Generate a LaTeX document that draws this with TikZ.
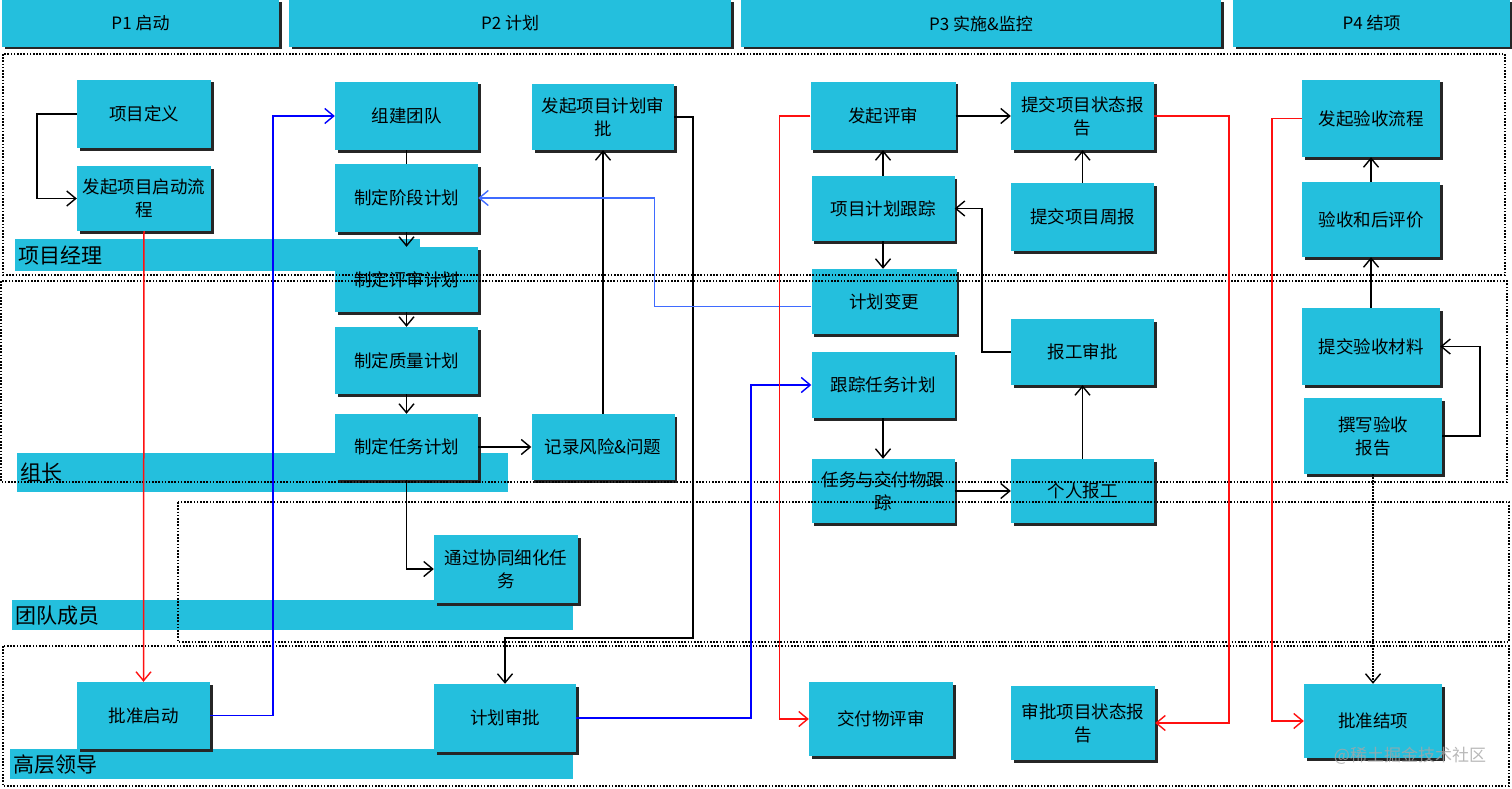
\documentclass[tikz,border=0pt]{standalone}
\usepackage{fontspec}
\setmainfont{Noto Sans CJK SC}
\usetikzlibrary{arrows.meta,shadows}
\definecolor{boxcyan}{HTML}{24BFDD}
\definecolor{darkblue}{HTML}{0000FF}
\definecolor{lightblue}{HTML}{3F6BFF}
\definecolor{flowred}{HTML}{FF1010}

\begin{document}
\begin{tikzpicture}[
        x=1pt, y=-1pt,
        box/.style={fill=boxcyan, minimum width=143pt, minimum height=66pt, inner sep=1pt,
                align=center, font=\fontsize{17.5}{23}\selectfont,
                drop shadow={shadow xshift=2.5pt, shadow yshift=-2.5pt, fill=black!85, opacity=1}},
        head/.style={box, minimum height=47pt, font=\fontsize{17}{20}\selectfont},
        lanelbl/.style={fill=boxcyan, anchor=north west, inner xsep=3pt, inner ysep=0pt,
                align=left, font=\fontsize{21}{24}\selectfont},
        lane/.style={draw=black, line width=1.6pt, dash pattern=on 1.6pt off 1.6pt},
        arr/.style={line width=1.5pt, -{Straight Barb[length=9pt, width=15pt, line width=1.4pt]}},
        link/.style={line width=1.5pt}
    ]

    \useasboundingbox (0,0) rectangle (1512,789);

    \node[lanelbl, text width=399pt, minimum height=32pt] (lbl1) at (15,239) {项目经理};
    \node[lanelbl, text width=485pt, minimum height=39pt] (lbl2) at (17,453) {组长};
    \node[lanelbl, text width=555pt, minimum height=30pt] (lbl3) at (12,600) {团队成员};
    \node[lanelbl, text width=557pt, minimum height=30pt] (lbl4) at (10,749) {高层领导};

    \node[head, minimum width=277pt] (p1) at (140.5,23.5) {P1 启动};
    \node[head, minimum width=442pt] (p2) at (510,23.5) {P2 计划};
    \node[head, minimum width=480pt] (p3) at (981,23.5) {P3 实施\&监控};
    \node[head, minimum width=277pt] (p4) at (1371.5,23.5) {P4 结项};

    \node[box, minimum width=134pt, minimum height=68pt] (xmdy) at (144,114) {项目定义};
    \node[box, minimum width=134pt, minimum height=65pt] (fqqd) at (144,198.5) {发起项目启动流\\程};
    \node[box, minimum width=133pt, minimum height=67pt] (pzqd) at (143.5,715.5) {批准启动};

    \node[box, minimum height=68pt] (zjtd) at (406.5,116) {组建团队};
    \node[box, minimum height=68pt] (jdjh) at (406.5,198) {制定阶段计划};
    \node[box, minimum height=65pt] (psjh) at (406.5,279.5) {制定评审计划};
    \node[box, minimum height=67pt] (zljh) at (406.5,360.5) {制定质量计划};
    \node[box] (rwjh) at (406.5,447) {制定任务计划};
    \node[box, minimum width=142pt] (fqsp) at (603,117) {发起项目计划审\\批};
    \node[box] (fxwt) at (603,447) {记录风险\&问题};
    \node[box, minimum width=144pt, minimum height=68pt] (xhrw) at (506,569) {通过协同细化任\\务};
    \node[box, minimum width=142pt, minimum height=68pt] (jhsp) at (505,718) {计划审批};

    \node[box, minimum width=145pt, minimum height=68pt] (fqps) at (883,116) {发起评审};
    \node[box, minimum height=65pt] (jhgz) at (883,208.5) {项目计划跟踪};
    \node[box, minimum width=145pt, minimum height=65pt] (jhbg) at (884,301.5) {计划变更};
    \node[box] (gzrw) at (883,385) {跟踪任务计划};
    \node[box, minimum height=64pt] (jfgz) at (883,491) {任务与交付物跟\\踪};
    \node[box, minimum width=144pt, minimum height=74pt] (jfps) at (881,719) {交付物评审};

    \node[box, minimum height=68pt] (tjzt) at (1082.5,116) {提交项目状态报\\告};
    \node[box, minimum height=68pt] (tjzb) at (1082.5,217) {提交项目周报};
    \node[box] (bgsp) at (1082.5,352) {报工审批};
    \node[box, minimum height=64pt] (grbg) at (1082.5,491) {个人报工};
    \node[box, minimum width=144pt, minimum height=74pt] (spzt) at (1083,723) {审批项目状态报\\告};

    \node[box, minimum width=138pt, minimum height=77pt] (fqys) at (1371,118.5) {发起验收流程};
    \node[box, minimum width=138pt, minimum height=75pt] (yshp) at (1371,219.5) {验收和后评价};
    \node[box, minimum width=138pt, minimum height=77pt] (tjcl) at (1371,346.5) {提交验收材料};
    \node[box, minimum width=138pt, minimum height=76pt] (zxbg) at (1373,436) {撰写验收\\报告};
    \node[box, minimum width=138pt, minimum height=74pt] (pzjx) at (1373,721) {批准结项};

    \draw[lane] (3,54) rectangle (1505,275);
    \draw[lane] (1,281) rectangle (1507,482);
    \draw[lane] (178,502) rectangle (1509,642);
    \draw[lane] (3,646) rectangle (1509,786);

    \draw[arr] (xmdy.west) -- ++(-40,0) |- (fqqd.west);
    \draw[arr, flowred] (fqqd.south) -- (pzqd.north);
    \draw[arr, darkblue] (pzqd.east) -- ++(63,0) |- (zjtd.west);
    \draw[link] (zjtd.south) -- (jdjh.north);
    \draw[arr] (jdjh.south) -- (psjh.north);
    \draw[arr] (psjh.south) -- (zljh.north);
    \draw[arr] (zljh.south) -- (rwjh.north);
    \draw[arr] (rwjh.east) -- (fxwt.west);
    \draw[arr] (fxwt.north) -- (fqsp.south);
    \draw[arr] (rwjh.south) |- (xhrw.west);
    \draw[arr] (fqsp.east) -- ++(19,0) -- ++(0,521) -| (jhsp.north);
    \draw[arr, lightblue] (jhbg.west) ++(0,5) -- ++(-157,0) |- (jdjh.east);
    \draw[arr, darkblue] (jhsp.east) -- ++(175,0) |- (gzrw.west);

    \draw[arr, flowred] (fqps.west) -- ++(-31,0) |- (jfps.west);
    \draw[arr] (fqps.east) -- (tjzt.west);
    \draw[arr, flowred] (tjzt.east) -- ++(75,0) |- (spzt.east);
    \draw[arr] (jhgz.north) -- (fqps.south);
    \draw[arr] (jhgz.south) -- (jhbg.north -| jhgz.south);
    \draw[arr] (tjzb.north) -- (tjzt.south);
    \draw[arr] (bgsp.west) -- ++(-29,0) |- (jhgz.east);
    \draw[arr] (gzrw.south) -- (jfgz.north);
    \draw[arr] (jfgz.east) -- (grbg.west);
    \draw[arr] (grbg.north) -- (bgsp.south);

    \draw[arr, flowred] (fqys.west) -- ++(-30,0) |- (pzjx.west);
    \draw[arr] (yshp.north) -- (fqys.south);
    \draw[arr] (tjcl.north) -- (yshp.south);
    \draw[arr] (zxbg.east) -- ++(38,0) |- (tjcl.east);
    \draw[arr, line width=1.2pt, dash pattern=on 1.5pt off 1.5pt] (zxbg.south) -- (pzjx.north);

    \node[text=gray!70, opacity=0.8, font=\fontsize{17}{20}\selectfont] (wm) at (1410,756) {@稀土掘金技术社区};

\end{tikzpicture}
\end{document}
